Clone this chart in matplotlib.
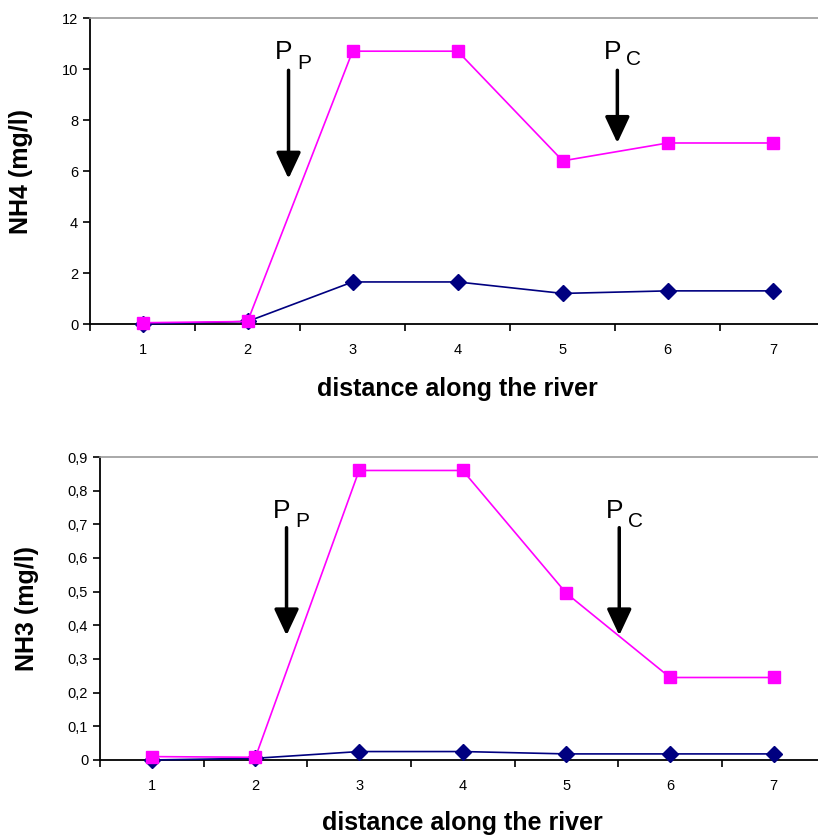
import matplotlib
matplotlib.use("Agg")
import matplotlib.pyplot as plt
from matplotlib.ticker import FixedLocator, FuncFormatter

plt.rcParams['font.family'] = ['Liberation Sans', 'DejaVu Sans']

positions = [1, 2, 3, 4, 5, 6, 7]
x_labels = ['1', '2', '3', '4', '5', '6', '7']

nh4_pink = [0.05, 0.1, 10.7, 10.7, 6.4, 7.1, 7.1]
nh4_blue = [0.0, 0.1, 1.65, 1.65, 1.2, 1.3, 1.3]
nh3_pink = [0.01, 0.008, 0.86, 0.86, 0.495, 0.245, 0.245]
nh3_blue = [0.0, 0.005, 0.025, 0.025, 0.018, 0.018, 0.018]

nh4_yticks = [0, 2, 4, 6, 8, 10, 12]
nh3_yticks = [0, 0.1, 0.2, 0.3, 0.4, 0.5, 0.6, 0.7, 0.8, 0.9]

PINK = '#ff00ff'
NAVY = '#000080'

fig = plt.figure(figsize=(8.18, 8.39), dpi=100)
ax1 = fig.add_axes([0.110, 0.6138, 0.899, 0.3647])
ax2 = fig.add_axes([0.1222, 0.0942, 0.887, 0.3611])


def style(ax, pink, blue, yticks, ylabel, fmt):
    ax.plot(positions, blue, color=NAVY, lw=1.2, marker='D', ms=8.5,
            mec=NAVY, mfc=NAVY, zorder=3, clip_on=False)
    ax.plot(positions, pink, color=PINK, lw=1.2, marker='s', ms=9,
            mec=PINK, mfc=PINK, zorder=4, clip_on=False)
    ax.set_xlim(0.5, 7.5)
    ax.set_ylim(yticks[0], yticks[-1])
    ax.xaxis.set_major_locator(FixedLocator([p + 0.5 for p in [0] + positions]))
    ax.xaxis.set_major_formatter(FuncFormatter(lambda v, p: ''))
    ax.set_xticks(positions, x_labels, minor=True)
    ax.tick_params(axis='x', which='major', length=5, width=1.2, direction='out')
    ax.tick_params(axis='x', which='minor', length=0, pad=14, labelsize=10.5)
    ax.set_yticks(yticks)
    ax.yaxis.set_major_formatter(FuncFormatter(fmt))
    ax.tick_params(axis='y', length=5, width=1.2, direction='out', labelsize=10.5)
    for s in ['left', 'bottom']:
        ax.spines[s].set_color('black')
        ax.spines[s].set_linewidth(1.3)
    ax.spines['top'].set_color('#999999')
    ax.spines['top'].set_linewidth(1.2)
    ax.spines['right'].set_visible(False)
    ax.set_ylabel(ylabel, fontsize=18, fontweight='bold')
    ax.set_xlabel('distance along the river', fontsize=18, fontweight='bold', va='top')


style(ax1, nh4_pink, nh4_blue, nh4_yticks, 'NH4 (mg/l)', lambda v, p: f'{v:g}')
style(ax2, nh3_pink, nh3_blue, nh3_yticks, 'NH3 (mg/l)',
      lambda v, p: f'{v:g}'.replace('.', ','))
ax1.yaxis.set_label_coords(-0.078, 0.5)
ax2.yaxis.set_label_coords(-0.084, 0.5)
ax1.xaxis.set_label_coords(0.5, -0.172)
ax2.xaxis.set_label_coords(0.5, -0.168)

arrow_props = dict(arrowstyle='-|>,head_length=1.6,head_width=0.75',
                   lw=2.5, color='black', shrinkA=0, shrinkB=0)


def marker(ax, x, y0, y1, ytext, sub):
    ax.annotate('', xy=(x, y1), xytext=(x, y0), arrowprops=arrow_props)
    ax.text(x - 0.13, ytext, 'P', fontsize=19, ha='left', va='baseline')
    ax.text(x + 0.08, ytext - (y0 - y1) * 0.09, sub, fontsize=15, ha='left', va='baseline')


marker(ax1, 2.39, 9.95, 5.7, 10.4, 'P')
marker(ax1, 5.52, 9.95, 7.1, 10.4, 'C')
marker(ax2, 2.3, 0.69, 0.37, 0.72, 'P')
marker(ax2, 5.51, 0.69, 0.37, 0.72, 'C')

fig.savefig('out.png', dpi=100)
